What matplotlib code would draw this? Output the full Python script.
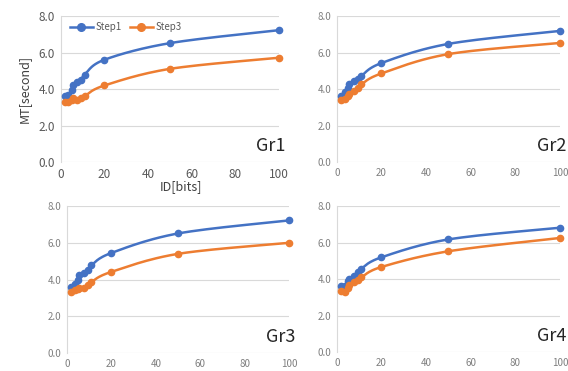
import numpy as np
import matplotlib
matplotlib.use("Agg")
import matplotlib.pyplot as plt

plt.rcParams['font.family'] = ['Noto Sans CJK JP', 'DejaVu Sans']

# data
ids = [2, 3.5, 5, 5.5, 7.5, 9.5, 11, 20, 50, 100]
groups = ["Gr1", "Gr2", "Gr3", "Gr4"]
step1 = {
    "Gr1": [3.62, 3.69, 3.96, 4.20, 4.38, 4.51, 4.80, 5.61, 6.52, 7.23],
    "Gr2": [3.63, 3.87, 4.05, 4.26, 4.45, 4.54, 4.72, 5.43, 6.48, 7.19],
    "Gr3": [3.60, 3.78, 4.00, 4.24, 4.38, 4.51, 4.78, 5.45, 6.51, 7.22],
    "Gr4": [3.60, 3.60, 3.90, 4.02, 4.15, 4.38, 4.57, 5.19, 6.17, 6.81],
}
step3 = {
    "Gr1": [3.29, 3.32, 3.38, 3.50, 3.42, 3.50, 3.62, 4.20, 5.11, 5.72],
    "Gr2": [3.43, 3.48, 3.63, 3.76, 3.90, 4.05, 4.26, 4.86, 5.92, 6.53],
    "Gr3": [3.33, 3.42, 3.51, 3.56, 3.56, 3.69, 3.87, 4.42, 5.40, 6.00],
    "Gr4": [3.36, 3.29, 3.51, 3.69, 3.84, 3.96, 4.09, 4.66, 5.52, 6.25],
}
xticks = [0, 20, 40, 60, 80, 100]
yticks = [0, 2, 4, 6, 8]

BLUE = "#4472C4"
ORANGE = "#ED7D31"
GRID = "#d9d9d9"


def smooth(x, y, n=24):
    # excel style smoothed line (bezier through the points)
    p = np.column_stack([x, y]).astype(float)
    out = []
    t = np.linspace(0, 1, n)[:, None]
    for i in range(len(p) - 1):
        p0 = p[max(i - 1, 0)]
        p1 = p[i]
        p2 = p[i + 1]
        p3 = p[min(i + 2, len(p) - 1)]
        c1 = p1 + (p2 - p0) / 6
        c2 = p2 - (p3 - p1) / 6
        seg = ((1 - t) ** 3) * p1 + 3 * ((1 - t) ** 2) * t * c1 + 3 * (1 - t) * t ** 2 * c2 + t ** 3 * p2
        out.append(seg)
    s = np.vstack(out)
    return s[:, 0], s[:, 1]


fig = plt.figure(figsize=(5.68, 3.71), dpi=100)
boxes = {
    "Gr1": [0.107, 0.563, 0.384, 0.3935],
    "Gr2": [0.593, 0.563, 0.393, 0.3935],
    "Gr3": [0.118, 0.0485, 0.391, 0.396],
    "Gr4": [0.593, 0.0512, 0.393, 0.3935],
}

for g in groups:
    ax = fig.add_axes(boxes[g])
    first = g == "Gr1"
    for vals, col, lab in [(step1[g], BLUE, "Step1"), (step3[g], ORANGE, "Step3")]:
        sx, sy = smooth(ids, vals)
        ax.plot(sx, sy, color=col, lw=1.8, clip_on=False, zorder=3)
        ax.plot(ids, vals, "o", color=col, ms=4.5, clip_on=False, zorder=4)
        ax.plot([], [], "-o", color=col, lw=1.8, ms=5.5, label=lab)
    ax.set_xlim(0, 100)
    ax.set_ylim(0, 8)
    ax.set_xticks(xticks)
    ax.set_yticks(yticks)
    ax.set_yticklabels([f"{v:.1f}" for v in yticks])
    ax.grid(axis="y", color=GRID, lw=0.8)
    ax.set_axisbelow(True)
    for s in ["top", "right", "bottom"]:
        ax.spines[s].set_visible(False)
    ax.spines["left"].set_color(GRID)
    ax.tick_params(length=0, pad=4)
    if first:
        ax.tick_params(labelsize=8.5, colors="#595959")
        ax.set_ylabel("MT[second]", fontsize=9, color="#404040", labelpad=6)
        ax.set_xlabel("ID[bits]", fontsize=9, color="#404040")
        ax.xaxis.set_label_coords(0.55, -0.12)
        leg = ax.legend(loc="upper left", ncol=2, frameon=False, fontsize=7,
                        bbox_to_anchor=(0.0, 1.02), handlelength=2.4,
                        columnspacing=0.8, handletextpad=0.3)
        for txt in leg.get_texts():
            txt.set_color("#595959")
    else:
        ax.tick_params(labelsize=7, colors="#7f7f7f")
    ax.text(1.03, 0.05, g, transform=ax.transAxes, ha="right", va="bottom",
            fontsize=13, color="#262626")

fig.savefig("out.png", dpi=100)
